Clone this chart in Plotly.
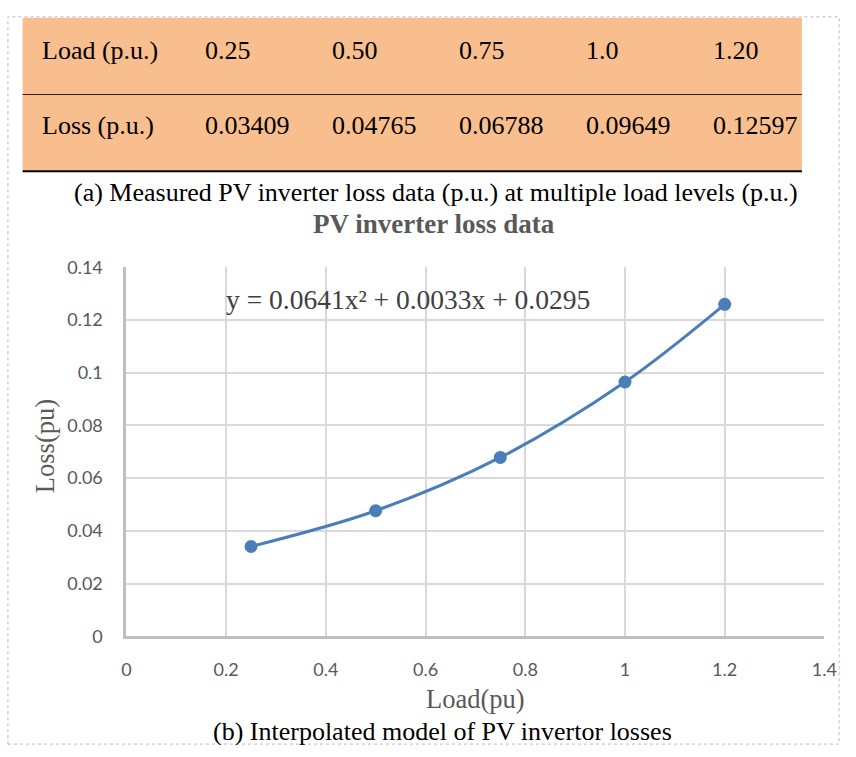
import plotly.graph_objects as go

# ---- data ----
load_pu = [0.25, 0.50, 0.75, 1.0, 1.20]
loss_pu = [0.03409, 0.04765, 0.06788, 0.09649, 0.12597]
load_labels = ["0.25", "0.50", "0.75", "1.0", "1.20"]
loss_labels = ["0.03409", "0.04765", "0.06788", "0.09649", "0.12597"]
row_headers = ["Load (p.u.)", "Loss (p.u.)"]
x_ticks = [0, 0.2, 0.4, 0.6, 0.8, 1, 1.2, 1.4]
y_ticks = [0, 0.02, 0.04, 0.06, 0.08, 0.1, 0.12, 0.14]
equation = "y = 0.0641x² + 0.0033x + 0.0295"

W, H = 856, 757
SERIF = "Liberation Serif, Times New Roman, serif"
SANS = "Lato, Calibri, sans-serif"
BLUE = "#4A7EBB"
GRAY_TXT = "#595959"

def px(x):
    return x / W

def py(y):
    return 1 - y / H

fig = go.Figure()
fig.add_trace(go.Scatter(
    x=load_pu, y=loss_pu, mode="lines+markers",
    line=dict(color=BLUE, width=3, shape="spline", smoothing=1.0),
    marker=dict(color=BLUE, size=13),
    showlegend=False, hoverinfo="x+y",
))

shapes = []
annotations = []

# page border
shapes.append(dict(type="rect", xref="paper", yref="paper",
                   x0=px(3), x1=px(852), y0=py(754), y1=py(5),
                   line=dict(color="#A9BCD6", width=1, dash="dot"),
                   fillcolor="rgba(0,0,0,0)", layer="below"))

# table background
tx0, tx1, ty0, ty1 = 18, 814, 6, 164
shapes.append(dict(type="rect", xref="paper", yref="paper",
                   x0=px(tx0), x1=px(tx1), y0=py(ty1), y1=py(ty0),
                   fillcolor="#F8BE8E", line=dict(width=0), layer="below"))
# row divider
shapes.append(dict(type="line", xref="paper", yref="paper",
                   x0=px(tx0), x1=px(tx1), y0=py(85), y1=py(85),
                   line=dict(color="#222222", width=1)))
# bottom rule
shapes.append(dict(type="line", xref="paper", yref="paper",
                   x0=px(tx0), x1=px(tx1), y0=py(164), y1=py(164),
                   line=dict(color="#000000", width=2)))

# table text
label_x = 36
col_x0, col_dx = 202, 129.8
row_y = [40, 117]
rows = [load_labels, loss_labels]
for r, (hdr, vals) in enumerate(zip(row_headers, rows)):
    annotations.append(dict(text=hdr, xref="paper", yref="paper",
                            x=px(label_x), y=py(row_y[r]), xanchor="left", yanchor="middle",
                            showarrow=False, font=dict(family=SERIF, size=26, color="#000")))
    for i, v in enumerate(vals):
        annotations.append(dict(text=v, xref="paper", yref="paper",
                                x=px(col_x0 + i * col_dx), y=py(row_y[r]),
                                xanchor="left", yanchor="middle", showarrow=False,
                                font=dict(family=SERIF, size=26, color="#000")))

# captions and titles
annotations.append(dict(text="(a) Measured PV inverter loss data (p.u.) at multiple load levels (p.u.)",
                        xref="paper", yref="paper", x=px(440), y=py(186),
                        xanchor="center", yanchor="middle", showarrow=False,
                        font=dict(family=SERIF, size=26, color="#000")))
annotations.append(dict(text="<b>PV inverter loss data</b>",
                        xref="paper", yref="paper", x=px(438), y=py(218),
                        xanchor="center", yanchor="middle", showarrow=False,
                        font=dict(family=SERIF, size=27, color=GRAY_TXT)))
annotations.append(dict(text=equation, xref="x", yref="y", x=0.5645, y=0.1278,
                        xanchor="center", yanchor="middle", showarrow=False,
                        font=dict(family=SERIF, size=27.5, color="#404040")))
annotations.append(dict(text="Loss(pu)", xref="paper", yref="paper", x=px(41), y=py(447),
                        xanchor="center", yanchor="middle", textangle=-90, showarrow=False,
                        font=dict(family=SERIF, size=26.5, color=GRAY_TXT)))
annotations.append(dict(text="Load(pu)", xref="paper", yref="paper", x=px(481), y=py(708),
                        xanchor="center", yanchor="middle", showarrow=False,
                        font=dict(family=SERIF, size=26.5, color=GRAY_TXT)))
annotations.append(dict(text="(b) Interpolated model of PV invertor losses",
                        xref="paper", yref="paper", x=px(447), y=py(741),
                        xanchor="center", yanchor="middle", showarrow=False,
                        font=dict(family=SERIF, size=26, color="#000")))

fig.update_layout(
    width=W, height=H,
    margin=dict(l=0, r=0, t=0, b=0),
    paper_bgcolor="white", plot_bgcolor="white",
    shapes=shapes, annotations=annotations,
    xaxis=dict(domain=[px(124), px(837)], range=[0, 1.4], tickvals=x_ticks,
               ticktext=[f"{v:g}" for v in x_ticks],
               showgrid=True, gridcolor="#D9D9D9", gridwidth=1.5,
               showline=True, linecolor="#BFBFBF", linewidth=2.5,
               zeroline=False, ticks="", ticklabelstandoff=15,
               tickfont=dict(family=SANS, size=18, color=GRAY_TXT), fixedrange=True),
    yaxis=dict(domain=[py(643), py(263)], range=[0, 0.14], tickvals=y_ticks,
               ticktext=[f"{v:g}" for v in y_ticks],
               showgrid=True, gridcolor="#D9D9D9", gridwidth=1.5,
               showline=True, linecolor="#BFBFBF", linewidth=3,
               zeroline=False, ticks="", ticklabelstandoff=17,
               tickfont=dict(family=SANS, size=18, color=GRAY_TXT), fixedrange=True),
)

fig.write_html(
    "out.html",
    config={"displayModeBar": False},
    post_script="document.documentElement.style.margin='0';document.body.style.margin='0';"
                "document.body.style.overflow='hidden';",
)
